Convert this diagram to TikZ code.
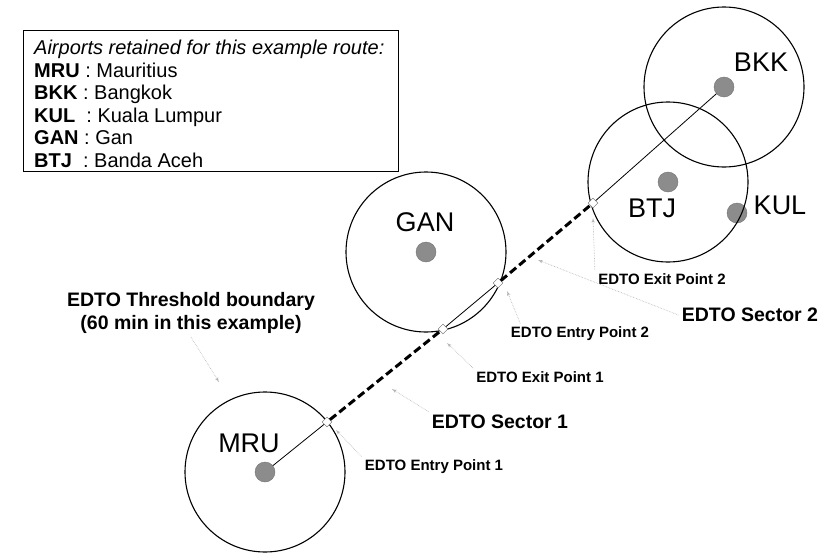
\documentclass[tikz,border=0pt]{standalone}
\usepackage{fontspec}
\setmainfont{Liberation Sans}
\usetikzlibrary{arrows}

\begin{document}
\begin{tikzpicture}[x=1pt,y=-1pt]
\tikzset{dot/.style = {shape=circle,fill=black!45,draw=black!55,minimum size=20pt,inner sep=0pt}}
\tikzset{code/.style = {font=\fontsize{27}{27}\selectfont}}
\tikzset{fix/.style = {shape=rectangle,rotate=45,draw=black!60,fill=white,minimum size=7pt,inner sep=0pt}}
\tikzset{zone/.style = {draw,line width=1.1pt}}
\tikzset{route/.style = {-,line width=0.8pt}}
\tikzset{sector/.style = {-,line width=3pt,dash pattern=on 8pt off 4pt}}
\tikzset{tag/.style = {font=\bfseries\fontsize{15}{15}\selectfont}}
\tikzset{bigtag/.style = {font=\bfseries\fontsize{19.5}{23}\selectfont,align=center}}
\tikzset{pointer/.style = {-latex',densely dotted,draw=gray!60,line width=0.6pt}}
\useasboundingbox[fill=white] (0,0) rectangle (825,554);
% legend
\node[draw,line width=0.8pt,anchor=north west,minimum width=375pt,minimum height=141pt] (legend) at (23,30) {};
\node[anchor=north west,align=left,inner sep=0pt,font=\fontsize{20}{22.5}\selectfont] (legtext) at (34,40)
  {\textit{Airports retained for this example route:}\\
   \textbf{MRU} : Mauritius\\
   \textbf{BKK} : Bangkok\\
   \textbf{KUL}\ \ : Kuala Lumpur\\
   \textbf{GAN} : Gan\\
   \textbf{BTJ}\ \ : Banda Aceh};

% airports
\node[dot] (mru) at (265,472) {};
\node[dot] (gan) at (426,252) {};
\node[dot] (btj) at (668,182) {};
\node[dot] (kul) at (737,213) {};
\node[dot] (bkk) at (724,87) {};

\node[code] (mruT) at (249,443) {MRU};
\node[code] (ganT) at (425,222) {GAN};
\node[code] (btjT) at (652,208) {BTJ};
\node[code] (kulT) at (780,205) {KUL};
\node[code] (bkkT) at (761,62) {BKK};

% threshold circles
\draw[zone] (mru) circle (80);
\draw[zone] (gan) circle (80);
\draw[zone] (btj) circle (80);
\draw[zone] (bkk) circle (80);

% route
\node[fix] (inA) at (327,422) {};
\node[fix] (outA) at (443,329) {};
\node[fix] (inB) at (498,283) {};
\node[fix] (outB) at (593,203) {};

\draw[route] (mru) -- (inA);
\draw[sector] (inA) -- (outA);
\draw[route] (outA) -- (inB);
\draw[sector] (inB) -- (outB);
\draw[route] (outB) -- (bkk);

% labels
\node[bigtag] (thr) at (191,313) {EDTO Threshold boundary\\(60 min in this example)};
\node[tag] (inAlab) at (434,467) {EDTO Entry Point 1};
\node[tag] (outAlab) at (540,377) {EDTO Exit Point 1};
\node[tag] (inBlab) at (580,334) {EDTO Entry Point 2};
\node[tag] (outBlab) at (662,279) {EDTO Exit Point 2};
\node[bigtag] (secA) at (500,422) {EDTO Sector 1};
\node[bigtag] (secB) at (750,315) {EDTO Sector 2};

% pointers
\coordinate (thrTip) at (219,382);
\coordinate (inATip) at (336,430);
\coordinate (outATip) at (447,343);
\coordinate (inBTip) at (507,291);
\coordinate (outBTip) at (593,218);
\coordinate (secATip) at (392,389);
\coordinate (secBTip) at (538,260);

\draw[pointer] (thr.south) -- (thrTip);
\draw[pointer] (inAlab.north west) -- (inATip);
\draw[pointer] (outAlab.north west) -- (outATip);
\draw[pointer] (inBlab.170) -- (inBTip);
\draw[pointer] (outBlab.north west) -- (outBTip);
\draw[pointer] (secA.north west) -- (secATip);
\draw[pointer] (secB.west) -- (secBTip);
\end{tikzpicture}
\end{document}
